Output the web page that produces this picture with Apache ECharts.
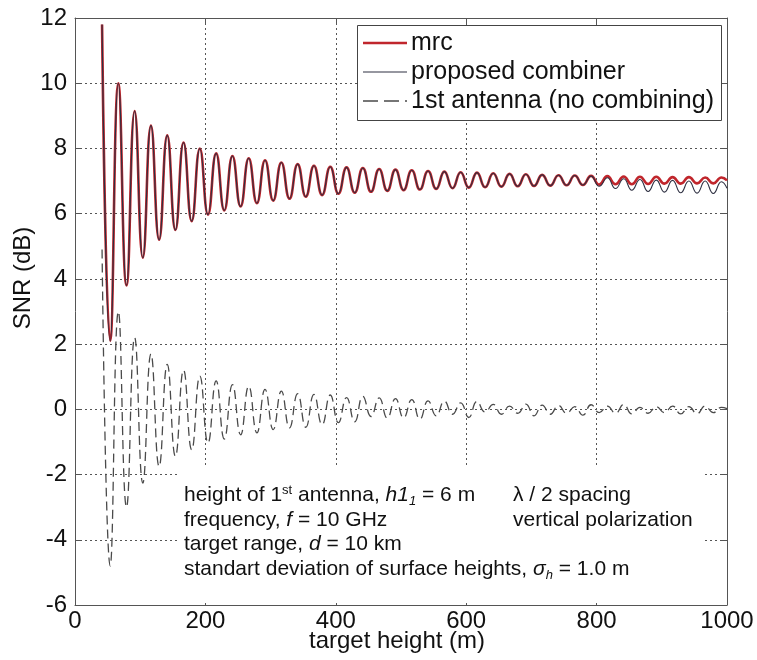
<!DOCTYPE html>
<html>
<head>
<meta charset="utf-8">
<script src="https://cdn.jsdelivr.net/npm/echarts@6/dist/echarts.min.js"></script>
<style>
html,body{margin:0;padding:0;background:#fff;}
#chart{width:757px;height:660px;}
</style>
</head>
<body>
<div id="chart"></div>
<script>
// target heights (m) of successive maxima/minima
var heights = [41.5, 54, 66.5, 79, 91.5, 104, 116.5, 129, 141.5, 154, 166.5, 179, 191.5, 204, 216.5, 229,
  241.5, 254, 266.5, 279, 291.5, 304, 316.5, 329, 341.5, 354, 366.5, 379, 391.5, 404, 416.5, 429,
  441.5, 454, 466.5, 479, 491.5, 504, 516.5, 529, 541.5, 554, 566.5, 579, 591.5, 604, 616.5, 629,
  641.5, 654, 666.5, 679, 691.5, 704, 716.5, 729, 741.5, 754, 766.5, 779, 791.5, 804, 816.5, 829,
  841.5, 854, 866.5, 879, 891.5, 904, 916.5, 929, 941.5, 954, 966.5, 979, 991.5, 1000];

// SNR (dB), mrc
var snrMrc = [11.8, 2.1, 10.0, 3.8, 9.15, 4.65, 8.7, 5.2, 8.4, 5.5, 8.18, 5.77, 8.0, 5.97, 7.85, 6.1,
  7.77, 6.22, 7.7, 6.32, 7.64, 6.4, 7.57, 6.46, 7.52, 6.52, 7.47, 6.57, 7.44, 6.61, 7.42, 6.64,
  7.4, 6.67, 7.37, 6.7, 7.35, 6.72, 7.33, 6.74, 7.31, 6.76, 7.29, 6.78, 7.27, 6.8, 7.26, 6.81,
  7.24, 6.83, 7.22, 6.84, 7.21, 6.85, 7.19, 6.86, 7.18, 6.87, 7.17, 6.88, 7.16, 6.89, 7.15, 6.9,
  7.14, 6.9, 7.13, 6.91, 7.13, 6.92, 7.12, 6.92, 7.12, 6.93, 7.11, 6.93, 7.11, 7.02];

// SNR (dB), proposed combiner
var snrProposed = [11.8, 2.1, 10.0, 3.8, 9.15, 4.65, 8.7, 5.2, 8.4, 5.5, 8.18, 5.77, 8.0, 5.97, 7.85, 6.1,
  7.77, 6.22, 7.7, 6.32, 7.64, 6.4, 7.57, 6.46, 7.52, 6.52, 7.47, 6.57, 7.44, 6.61, 7.42, 6.64,
  7.4, 6.67, 7.37, 6.7, 7.35, 6.72, 7.33, 6.74, 7.31, 6.76, 7.29, 6.78, 7.27, 6.8, 7.26, 6.81,
  7.24, 6.83, 7.22, 6.84, 7.21, 6.85, 7.19, 6.86, 7.18, 6.87, 7.17, 6.88, 7.15, 6.84, 7.1, 6.77,
  7.07, 6.72, 7.05, 6.68, 7.03, 6.66, 7.02, 6.64, 7.0, 6.63, 7.0, 6.62, 6.98, 6.78];

// SNR (dB), 1st antenna (no combining)
var snrFirst = [4.9, -4.8, 3.0, -3.0, 2.2, -2.26, 1.7, -1.75, 1.38, -1.44, 1.2, -1.24, 1.02, -1.03, 0.87, -0.91,
  0.76, -0.78, 0.71, -0.72, 0.61, -0.62, 0.56, -0.57, 0.48, -0.55, 0.46, -0.47, 0.44, -0.41, 0.36, -0.38,
  0.4, -0.22, 0.35, -0.27, 0.33, -0.26, 0.3, -0.3, 0.26, -0.2, 0.25, -0.15, 0.2, -0.25, 0.24, -0.08,
  0.15, -0.15, 0.1, -0.12, 0.16, -0.2, 0.13, -0.15, 0.12, -0.12, 0.08, -0.18, 0.14, -0.1, 0.1, -0.12,
  0.15, -0.14, 0.06, -0.12, 0.08, -0.1, 0.1, -0.14, 0.08, -0.13, 0.1, -0.1, 0.06, 0.02];

var xTicks = [0, 200, 400, 600, 800, 1000];
var yTicks = [-6, -4, -2, 0, 2, 4, 6, 8, 10, 12];
var seriesNames = ['mrc', 'proposed combiner', '1st antenna (no combining)'];

function pairs(ys) { return heights.map(function (h, i) { return [h, ys[i]]; }); }

var FONT = '"Liberation Sans", Arial, Helvetica, sans-serif';
var chart = echarts.init(document.getElementById('chart'), null, {renderer: 'canvas'});

var C_MRC = '#c0262c', C_PROP = '#2e3042', C_FIRST = '#4a4a4a';
var gridLine = {show: true, lineStyle: {color: '#555', width: 1, type: [2, 3]}};
var frame = {show: true, onZero: false, lineStyle: {color: '#555', width: 1}};
var tickIn = {show: true, inside: true, length: 7, lineStyle: {color: '#555', width: 1}};

function legendEntry(i, y, lineStyle) {
  return [
    {type: 'line', z: 16, shape: {x1: 363, y1: y, x2: 407, y2: y}, style: lineStyle},
    {type: 'text', z: 16, x: 411, y: y, style: {text: seriesNames[i], fill: '#111', font: '25px ' + FONT,
      verticalAlign: 'middle', align: 'left'}}
  ];
}

var graphics = [
  {type: 'rect', z: 15, shape: {x: 357.5, y: 25.5, width: 364, height: 95},
   style: {fill: '#fff', stroke: '#444', lineWidth: 1}},
  {type: 'rect', z: 15, shape: {x: 180, y: 466, width: 525, height: 137},
   style: {fill: '#fff', stroke: null}},
  {type: 'text', z: 16, x: 184, y: 495.5, style: {
    text: 'height of 1{sup|st} antenna, {it|h1}{sub|1} = 6 m', fill: '#111', font: '21px ' + FONT,
    verticalAlign: 'middle', align: 'left',
    rich: {sup: {fontSize: 13, fontFamily: FONT, lineHeight: 14, verticalAlign: 'top', fill: '#111'},
           it: {fontSize: 21, fontFamily: FONT, fontStyle: 'italic', fill: '#111', lineHeight: 24},
           sub: {fontSize: 13, fontFamily: FONT, fontStyle: 'italic', lineHeight: 14, verticalAlign: 'bottom', fill: '#111'}}}},
  {type: 'text', z: 16, x: 184, y: 520, style: {
    text: 'frequency, {it|f} = 10 GHz', fill: '#111', font: '21px ' + FONT, verticalAlign: 'middle',
    rich: {it: {fontSize: 21, fontFamily: FONT, fontStyle: 'italic', fill: '#111'}}}},
  {type: 'text', z: 16, x: 184, y: 544.5, style: {
    text: 'target range, {it|d} = 10 km', fill: '#111', font: '21px ' + FONT, verticalAlign: 'middle',
    rich: {it: {fontSize: 21, fontFamily: FONT, fontStyle: 'italic', fill: '#111'}}}},
  {type: 'text', z: 16, x: 184, y: 569.5, style: {
    text: 'standart deviation of surface heights, {it|σ}{sub|h} = 1.0 m', fill: '#111', font: '21px ' + FONT,
    verticalAlign: 'middle',
    rich: {it: {fontSize: 21, fontFamily: FONT, fontStyle: 'italic', fill: '#111', lineHeight: 24},
           sub: {fontSize: 13, fontFamily: FONT, fontStyle: 'italic', lineHeight: 14, verticalAlign: 'bottom', fill: '#111'}}}},
  {type: 'text', z: 16, x: 513, y: 495.5, style: {
    text: 'λ / 2 spacing', fill: '#111', font: '21px ' + FONT, verticalAlign: 'middle'}},
  {type: 'text', z: 16, x: 513, y: 520, style: {
    text: 'vertical polarization', fill: '#111', font: '21px ' + FONT, verticalAlign: 'middle'}},
  {type: 'text', z: 16, x: 397, y: 641, style: {
    text: 'target height (m)', fill: '#111', font: '24px ' + FONT, align: 'center', verticalAlign: 'middle'}},
  {type: 'text', z: 16, x: 23, y: 278, rotation: Math.PI / 2, style: {
    text: 'SNR (dB)', fill: '#111', font: '24px ' + FONT, align: 'center', verticalAlign: 'middle'}}
];
graphics = graphics
  .concat(legendEntry(0, 43, {stroke: C_MRC, lineWidth: 2.6}))
  .concat(legendEntry(1, 72, {stroke: C_PROP, lineWidth: 1.1}))
  .concat(legendEntry(2, 101, {stroke: C_FIRST, lineWidth: 1.3, lineDash: [15, 6]}));

var option = {
  animation: false,
  backgroundColor: '#fff',
  grid: {left: 75, top: 18, width: 652, height: 587, containLabel: false},
  xAxis: [
    {type: 'value', min: xTicks[0], max: xTicks[xTicks.length - 1], interval: xTicks[1] - xTicks[0],
     position: 'bottom', axisLine: frame, axisTick: tickIn, splitLine: gridLine,
     axisLabel: {fontSize: 24, color: '#111', fontFamily: FONT, margin: 4,
                 formatter: function (v) { return String(v); }}},
    {type: 'value', min: xTicks[0], max: xTicks[xTicks.length - 1], interval: xTicks[1] - xTicks[0],
     position: 'top', axisLine: frame, axisTick: tickIn, splitLine: {show: false}, axisLabel: {show: false}}
  ],
  yAxis: [
    {type: 'value', min: yTicks[0], max: yTicks[yTicks.length - 1], interval: yTicks[1] - yTicks[0],
     position: 'left', axisLine: frame, axisTick: tickIn, splitLine: gridLine,
     axisLabel: {fontSize: 24, color: '#111', fontFamily: FONT, margin: 8,
                 formatter: function (v) { return String(v); }}},
    {type: 'value', min: yTicks[0], max: yTicks[yTicks.length - 1], interval: yTicks[1] - yTicks[0],
     position: 'right', axisLine: frame, axisTick: tickIn, splitLine: {show: false}, axisLabel: {show: false}}
  ],
  graphic: graphics,
  series: [
    {name: seriesNames[2], type: 'line', data: pairs(snrFirst), symbol: 'none', showSymbol: false,
     smooth: 0.5, z: 3, lineStyle: {color: C_FIRST, width: 1.3, type: [9, 5]}, itemStyle: {color: C_FIRST}},
    {name: seriesNames[0], type: 'line', data: pairs(snrMrc), symbol: 'none', showSymbol: false,
     smooth: 0.5, z: 4, lineStyle: {color: C_MRC, width: 2.6}, itemStyle: {color: C_MRC}},
    {name: seriesNames[1], type: 'line', data: pairs(snrProposed), symbol: 'none', showSymbol: false,
     smooth: 0.5, z: 5, lineStyle: {color: C_PROP, width: 1.1}, itemStyle: {color: C_PROP}}
  ]
};
chart.setOption(option);
</script>
</body>
</html>
